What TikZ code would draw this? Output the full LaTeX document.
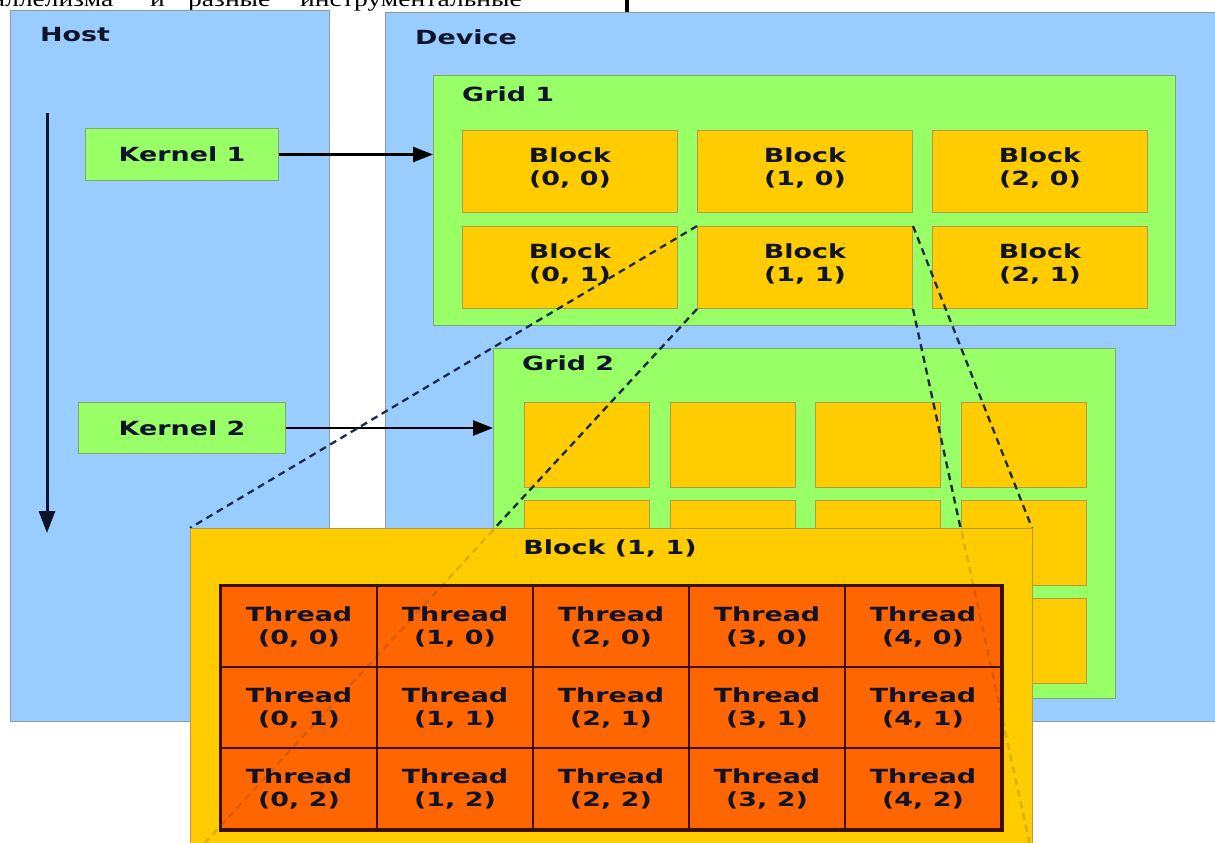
\documentclass[tikz,border=0pt]{standalone}
\usepackage{fontspec}
\setsansfont[FakeStretch=1.38]{DejaVu Sans}
\newfontfamily\pagefont[FakeStretch=1.25]{Liberation Serif}
\usetikzlibrary{arrows.meta}
\definecolor{HostBlue}{HTML}{99CCFF}
\definecolor{PanelEdge}{HTML}{8A9AAA}
\definecolor{GridGreen}{HTML}{99FF66}
\definecolor{GreenEdge}{HTML}{7FA870}
\definecolor{BlockGold}{HTML}{FFCC00}
\definecolor{GoldEdge}{HTML}{B09A50}
\definecolor{ThreadOrange}{HTML}{FF6600}
\definecolor{ThreadEdge}{HTML}{3A1000}
\definecolor{LabelInk}{HTML}{10142A}
\definecolor{ZoomInk}{HTML}{1C2C48}
\tikzset{
  every node/.style={font=\sffamily\bfseries\fontsize{19.5}{23}\selectfont, text=LabelInk, inner sep=0pt},
  panel/.style={draw=PanelEdge, line width=1pt, fill=HostBlue, anchor=north west},
  gridbox/.style={draw=GreenEdge, line width=1pt, fill=GridGreen, anchor=north west},
  kernelbox/.style={gridbox},
  blockbox/.style={draw=GoldEdge, line width=1pt, fill=BlockGold, anchor=north west, align=center},
  threadbox/.style={draw=ThreadEdge, line width=2pt, fill=ThreadOrange, anchor=north west, align=center, minimum width=156pt, minimum height=81pt},
  paneltitle/.style={anchor=base west},
  pagetext/.style={font=\pagefont\fontsize{22}{24}\selectfont, text=black, anchor=base west},
  launch/.style={-{Triangle[length=20pt,width=15pt]}, line width=2.5pt, draw=black},
  timeline/.style={-{Triangle[length=22pt,width=16pt]}, line width=3pt, draw=LabelInk},
  zoomline/.style={draw=ZoomInk, line width=2.3pt, dash pattern=on 7pt off 5pt},
}
\begin{document}
\begin{tikzpicture}[x=1pt,y=-1pt]
  \useasboundingbox (0,0) rectangle (1215,843);
  \clip (0,0) rectangle (1215,843);
  % cut-off line of the page above the figure
  \node[pagetext] (pg1) at (-48,7) {параллелизма};
  \node[pagetext] (pg2) at (150,7) {и};
  \node[pagetext] (pg3) at (188,7) {разные};
  \node[pagetext] (pg4) at (300,7) {инструментальные};
  \fill[black] (625,0) rectangle (629,18);
  % host and device
  \node[panel, minimum width=319pt, minimum height=711pt] (host) at (10,10) {};
  \node[panel, minimum width=840pt, minimum height=709pt] (device) at (385,12) {};
  \node[paneltitle] (hostlbl) at (40,42) {Host};
  \node[paneltitle] (devlbl) at (415,45) {Device};
  % grid 1
  \node[gridbox, minimum width=742pt, minimum height=250pt] (grid1) at (433,75) {};
  \node[paneltitle] (g1lbl) at (462,101) {Grid 1};
  \foreach \i in {0,1,2}
    \foreach \j in {0,1}
      \node[blockbox, minimum width=215pt, minimum height=82pt] (b\i\j) at ({462+235*\i},{130+96*\j}) {};
  \foreach \i in {0,1,2}
    \foreach \j in {0,1}
      \node[align=center] (bl\i\j) at ([yshift=4pt]b\i\j.center) {Block\\(\i, \j)};
  % grid 2
  \node[gridbox, minimum width=622pt, minimum height=350pt] (grid2) at (493,348) {};
  \node[paneltitle] (g2lbl) at (522,370) {Grid 2};
  \foreach \i in {0,...,3}
    \foreach \j in {0,1,2}
      \node[blockbox, minimum width=125pt, minimum height=85pt] (c\i\j) at ({524+145.5*\i},{402+98*\j}) {};
  % kernels
  \node[kernelbox, minimum width=193pt, minimum height=52pt] (k1) at (85,128) {Kernel 1};
  \node[kernelbox, minimum width=207pt, minimum height=51pt] (k2) at (78,402) {Kernel 2};
  \draw[launch] (k1.east) -- (k1.east -| grid1.west);
  \draw[launch] (k2.east) -- (k2.east -| grid2.west);
  \coordinate (tstart) at (47,113);
  \coordinate (tend) at (47,533);
  \draw[timeline] (tstart) -- (tend);
  % zoom of block (1,1)
  \coordinate (bignw) at (190,528);
  \coordinate (bigse) at (1032,858);
  \draw[zoomline] (b11.north west) -- (bignw);
  \draw[zoomline] (b11.south west) -- (bignw |- bigse);
  \draw[zoomline] (b11.north east) -- (bigse |- bignw);
  \draw[zoomline] (b11.south east) -- (bigse);
  \node[blockbox, minimum width=842pt, minimum height=330pt] (big) at (bignw) {};
  \node[anchor=base] (biglbl) at (610,554) {Block (1, 1)};
  \foreach \i in {0,...,4}
    \foreach \j in {0,1,2}
      \node[threadbox] (t\i\j) at ({220+156*\i},{585+81*\j}) {Thread\\(\i, \j)};
  \draw[ThreadEdge, line width=3pt] (t00.north west) rectangle (t42.south east);
  % faint trace of the zoom lines over the block
  \draw[zoomline, opacity=0.18] (b11.south west) -- (big.south west);
  \draw[zoomline, opacity=0.18] (b11.south east) -- (big.south east);
\end{tikzpicture}
\end{document}
